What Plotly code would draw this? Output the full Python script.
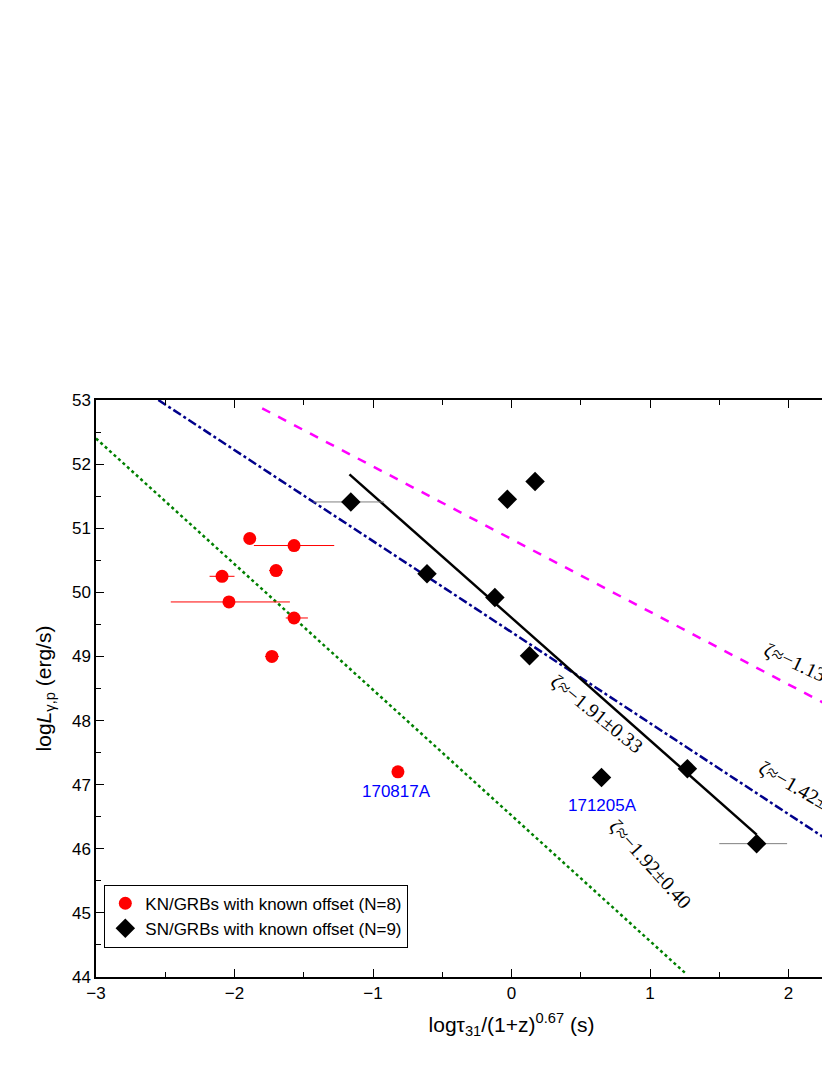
import plotly.graph_objects as go

kn_x = [-1.89, -1.57, -1.70, -2.09, -2.04, -1.57, -1.73, -0.82]
kn_y = [50.84, 50.73, 50.34, 50.25, 49.85, 49.60, 49.00, 47.20]
kn_xm = [0.0, 0.29, 0.05, 0.09, 0.42, 0.06, 0.05, 0.0]
kn_xp = [0.0, 0.29, 0.05, 0.09, 0.44, 0.10, 0.05, 0.0]

sn_x = [-1.16, -0.61, -0.12, -0.03, 0.17, 0.13, 0.65, 1.27, 1.77]
sn_y = [51.41, 50.29, 49.92, 51.45, 51.73, 49.01, 47.11, 47.25, 46.08]
sn_xm = [0.27, 0.0, 0.05, 0.0, 0.0, 0.0, 0.0, 0.0, 0.27]
sn_xp = [0.24, 0.0, 0.05, 0.0, 0.0, 0.0, 0.0, 0.0, 0.22]

fit_x = [-1.17, 1.77]; fit_y = [51.84, 46.22]
blue_x = [-2.55, 3.0]; blue_y = [53.0, 45.12]
mag_x = [-1.80, 3.0]; mag_y = [52.87, 47.43]
grn_x = [-3.0, 1.26]; grn_y = [52.40, 44.05]

fig = go.Figure()
fig.add_trace(go.Scatter(x=mag_x, y=mag_y, mode="lines", line=dict(color="#ff00ff", width=2.5, dash="dash"), showlegend=False))
fig.add_trace(go.Scatter(x=blue_x, y=blue_y, mode="lines", line=dict(color="#00008b", width=2.5, dash="dashdot"), showlegend=False))
fig.add_trace(go.Scatter(x=grn_x, y=grn_y, mode="lines", line=dict(color="green", width=2.5, dash="dot"), showlegend=False))
fig.add_trace(go.Scatter(x=fit_x, y=fit_y, mode="lines", line=dict(color="black", width=2.5), showlegend=False))
fig.add_trace(go.Scatter(x=kn_x, y=kn_y, mode="markers", name="KN/GRBs with known offset (N=8)",
                         marker=dict(color="red", size=13, symbol="circle"),
                         error_x=dict(type="data", symmetric=False, array=kn_xp, arrayminus=kn_xm, color="red", thickness=1, width=0)))
fig.add_trace(go.Scatter(x=sn_x, y=sn_y, mode="markers", name="SN/GRBs with known offset (N=9)",
                         marker=dict(color="black", size=15, symbol="diamond"),
                         error_x=dict(type="data", symmetric=False, array=sn_xp, arrayminus=sn_xm, color="gray", thickness=1, width=0)))

serif = dict(family="Liberation Serif", size=20, color="black")
for x, y, t, a in [(0.62, 48.1, "ζ≈−1.91±0.33", 39), (2.15, 46.85, "ζ≈−1.42±0.27", 30),
                   (2.2, 48.75, "ζ≈−1.13±0.23", 25), (1.0, 45.75, "ζ≈−1.92±0.40", 48)]:
    fig.add_annotation(x=x, y=y, text=t, textangle=a, showarrow=False, font=serif)
for x, y, t in [(-0.83, 46.9, "170817A"), (0.66, 46.68, "171205A")]:
    fig.add_annotation(x=x, y=y, text=t, showarrow=False, font=dict(family="Liberation Sans", size=17, color="blue"))

ax = dict(showline=True, linecolor="black", linewidth=1.5, mirror="ticks", ticks="inside", ticklen=8,
          tickcolor="black", showgrid=False, zeroline=False,
          tickfont=dict(family="Liberation Sans", size=17, color="black"),
          minor=dict(ticks="inside", ticklen=5, tickcolor="black"))
fig.update_xaxes(range=[-3, 3], dtick=1, minor_dtick=0.5, **ax,
                 title=dict(text="logτ<sub>31</sub>/(1+z)<sup>0.67</sup> (s)", font=dict(family="Liberation Sans", size=21, color="black")))
fig.update_yaxes(range=[44, 53], dtick=1, minor_dtick=0.5, **ax,
                 title=dict(text="log<i>L</i><sub>γ,p</sub> (erg/s)", font=dict(family="Liberation Sans", size=21, color="black")))
fig.update_layout(width=930, height=1067, autosize=False, plot_bgcolor="white", paper_bgcolor="white",
                  margin=dict(l=88, r=6, t=392, b=98),
                  legend=dict(x=0.01, y=0.16, xanchor="left", yanchor="top", bordercolor="black", borderwidth=1,
                              bgcolor="white", font=dict(family="Liberation Sans", size=17, color="black")))
fig.write_html("out.html")
